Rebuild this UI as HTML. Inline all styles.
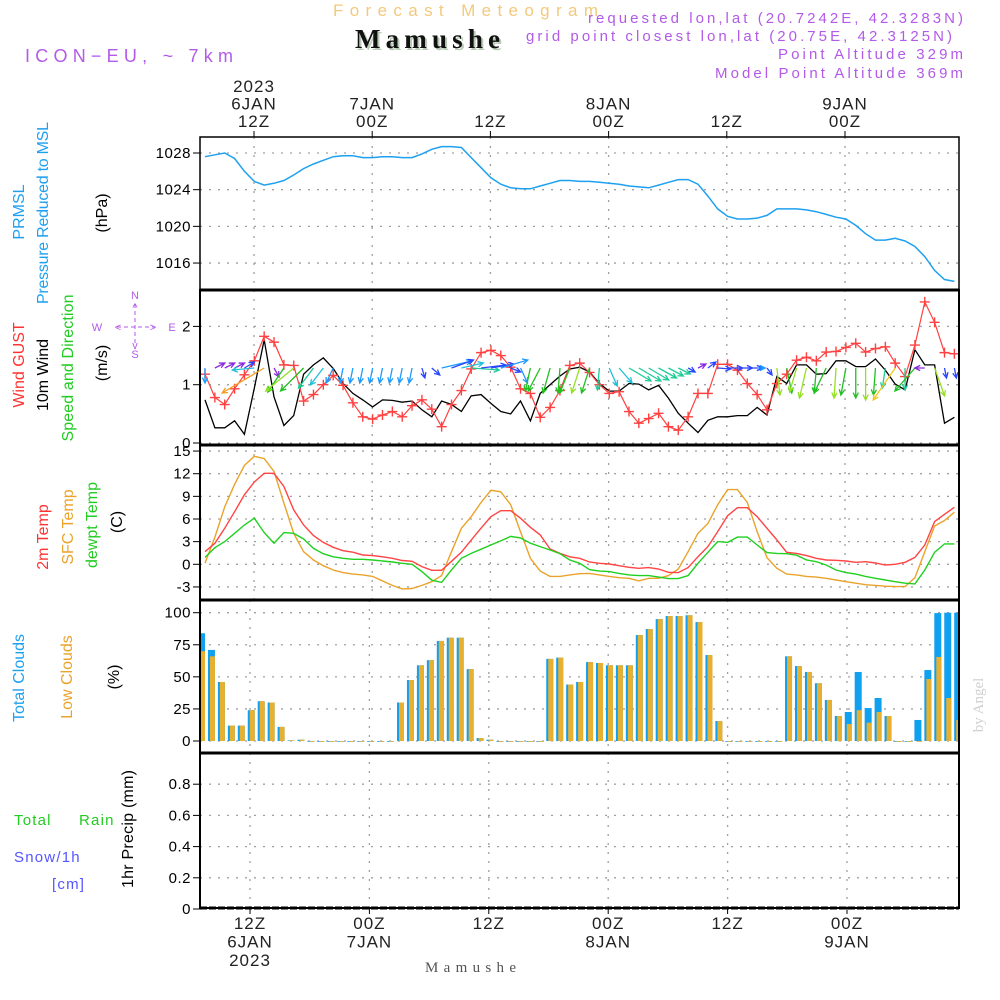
<!DOCTYPE html>
<html><head><meta charset="utf-8"><style>
html,body{margin:0;padding:0;background:#fff;}
svg{display:block;font-family:"Liberation Sans",sans-serif;}
</style></head><body>
<svg id="chart" width="1000" height="1000" viewBox="0 0 1000 1000" xmlns="http://www.w3.org/2000/svg">
<rect x="0" y="0" width="1000" height="1000" fill="#fff"/>
<!-- header -->
<text x="333" y="16" font-size="17" fill="#f3c97c" textLength="265">Forecast Meteogram</text>
<text x="357" y="50" font-family="Liberation Serif,serif" font-weight="bold" font-size="27" fill="#b9cbb6" textLength="145">Mamushe</text>
<text x="355" y="48" font-family="Liberation Serif,serif" font-weight="bold" font-size="27" fill="#111" textLength="145">Mamushe</text>
<text x="25" y="62" font-size="18" fill="#b35ae8" textLength="208">ICON−EU, ~ 7km</text>
<g fill="#b35ae8" font-size="15" text-anchor="end">
<text x="963" y="23" textLength="375">requested lon,lat (20.7242E, 42.3283N)</text>
<text x="952" y="41" textLength="426">grid point closest lon,lat (20.75E, 42.3125N)</text>
<text x="963" y="59" textLength="185">Point Altitude 329m</text>
<text x="963" y="78" textLength="248">Model Point Altitude 369m</text>
</g>
<!-- left axis titles -->
<g font-size="16" text-anchor="middle">
<text transform="translate(24,212) rotate(-90)" fill="#1ea0f0">PRMSL</text>
<text transform="translate(48,213) rotate(-90)" fill="#1ea0f0" textLength="182">Pressure Reduced to MSL</text>
<text transform="translate(107,213) rotate(-90)" fill="#000">(hPa)</text>
<text transform="translate(24,365) rotate(-90)" fill="#ff3333">Wind GUST</text>
<text transform="translate(48,375) rotate(-90)" fill="#000">10m Wind</text>
<text transform="translate(73,368) rotate(-90)" fill="#22cc22" textLength="147">Speed and Direction</text>
<text transform="translate(107,363) rotate(-90)" fill="#000">(m/s)</text>
<text transform="translate(48,537) rotate(-90)" fill="#ff3333">2m Temp</text>
<text transform="translate(73,527) rotate(-90)" fill="#eaa32a">SFC Temp</text>
<text transform="translate(97,525) rotate(-90)" fill="#22cc22">dewpt Temp</text>
<text transform="translate(122,522) rotate(-90)" fill="#000">(C)</text>
<text transform="translate(24,678) rotate(-90)" fill="#1ea0f0">Total Clouds</text>
<text transform="translate(72,677) rotate(-90)" fill="#eaa32a">Low Clouds</text>
<text transform="translate(119,677) rotate(-90)" fill="#000">(%)</text>
<text transform="translate(133,829) rotate(-90)" fill="#000" textLength="118">1hr Precip (mm)</text>
</g>
<g font-size="15" letter-spacing="1.2">
<text x="14" y="825" fill="#22cc22">Total <tspan x="79">Rain</tspan></text>
<text x="14" y="862" fill="#5555ff">Snow/1h</text>
<text x="52" y="889" fill="#5555ff">[cm]</text>
</g>
<!-- compass -->
<g fill="#b35ae8" stroke="none" font-size="11" text-anchor="middle">
<text x="97" y="331">W</text><text x="172" y="331">E</text><text x="135" y="299">N</text><text x="135" y="358">S</text>
<text x="135" y="311">^</text><text x="135" y="349">v</text>
<line x1="117" y1="327" x2="155" y2="327" stroke="#b35ae8" stroke-dasharray="4,3"/>
<line x1="135" y1="304" x2="135" y2="344" stroke="#b35ae8" stroke-dasharray="4,3"/>
<text x="118" y="331">&lt;</text><text x="153" y="331">&gt;</text>
</g>
<text transform="translate(983,705) rotate(-90)" text-anchor="middle" font-family="Liberation Serif,serif" font-size="15" fill="#d0d0d0">by Angel</text>
<text x="425" y="972" font-family="Liberation Serif,serif" font-size="15" fill="#555" textLength="91">Mamushe</text>
<g id="grid"></g>
<g id="marks"></g>
<g id="frames"></g>
<g id="labels"></g>
</svg>
<script>
// ---- data (hourly from 07Z 6 JAN) ----
const pressure = [1027.6,1027.8,1028.0,1027.4,1026.0,1024.9,1024.5,1024.7,1025.0,1025.6,1026.3,1026.8,1027.2,1027.6,1027.7,1027.7,1027.5,1027.5,1027.6,1027.6,1027.5,1027.5,1027.9,1028.4,1028.7,1028.7,1028.6,1027.5,1026.4,1025.3,1024.6,1024.2,1024.1,1024.1,1024.4,1024.7,1025.0,1025.0,1024.9,1024.9,1024.8,1024.7,1024.6,1024.4,1024.3,1024.2,1024.5,1024.8,1025.1,1025.1,1024.6,1023.3,1021.9,1021.1,1020.8,1020.8,1020.9,1021.2,1021.9,1021.9,1021.9,1021.8,1021.6,1021.3,1021.0,1020.8,1020.1,1019.2,1018.5,1018.5,1018.7,1018.4,1017.8,1016.7,1015.2,1014.2,1014.0];
const gust = [1.18,0.78,0.66,0.93,1.17,1.41,1.83,1.73,1.34,1.33,0.72,0.83,1.0,1.16,0.99,0.69,0.45,0.41,0.48,0.54,0.45,0.64,0.74,0.58,0.28,0.66,0.9,1.27,1.55,1.59,1.5,1.3,0.93,0.85,0.44,0.61,0.9,1.33,1.37,1.21,1.0,0.85,0.88,0.54,0.34,0.42,0.51,0.28,0.22,0.45,0.85,0.85,1.35,1.35,1.25,1.02,0.83,0.57,1.02,1.18,1.42,1.47,1.41,1.56,1.57,1.64,1.71,1.56,1.62,1.65,1.37,1.14,1.68,2.42,2.07,1.55,1.53];
const wind10m = [0.74,0.26,0.26,0.38,0.15,0.94,1.77,0.79,0.3,0.47,1.18,1.34,1.46,1.28,1.02,0.85,0.74,0.62,0.74,0.73,0.7,0.72,0.57,0.45,0.72,0.66,0.54,0.81,0.83,0.68,0.54,0.5,0.72,0.38,0.85,1.0,1.15,1.27,1.3,1.22,1.02,0.89,0.89,1.02,1.01,0.91,0.99,0.77,0.51,0.34,0.18,0.39,0.45,0.45,0.47,0.47,0.61,0.48,1.14,1.02,1.34,1.34,1.18,1.19,1.41,1.41,1.31,1.31,1.44,1.25,1.01,0.91,1.6,1.34,1.34,0.34,0.44];
const windU = [0,10,10,10,10,-22,-42,5,-16,-28,-23,-15,-13,-7,-3,-3,-3,-3,-3,-3,-3,-3,3,8,30,22,22,28,25,23,27,10,7,-5,-12,-7,-2,-10,-8,-8,-2,8,13,22,22,20,18,15,12,7,8,8,13,15,15,15,8,5,3,5,-7,-7,-2,-12,-2,-5,0,0,-2,-3,-22,0,-20,-10,10,2,2];
const windV = [15,-5,-5,-5,-6,2,25,9,24,23,23,20,17,15,15,15,15,15,15,15,15,15,10,7,-7,-8,-5,2,-3,-4,-8,4,15,23,23,25,25,25,25,25,22,18,15,13,13,12,10,8,6,4,-4,-6,1,0,0,0,0,7,27,25,24,30,25,25,30,27,30,32,27,20,32,22,23,0,28,10,10];
const windColor = ["lb","p","p","p","b","c","o","p","g","lg","g","t","c","lb","lb","lb","lb","lb","lb","lb","lb","lb","b","b","lb","b","c","t","b","b","lb","b","lb","g","g","g","g","g","lg","g","t","c","c","t","t","t","t","t","t","b","p","b","b","b","b","b","lb","b","lg","g","lg","lg","g","g","lg","g","g","lg","g","t","y","t","g","p","lg","b","b"];
const temp2m = [1.67,2.78,4.77,6.97,9.2,10.9,12.05,12.05,10.3,7.2,5.2,3.8,2.9,2.25,1.8,1.6,1.23,1.15,1.0,0.8,0.5,0.4,-0.3,-0.8,-0.8,0.4,1.6,3.2,4.8,6.3,7.1,7.1,6.1,4.9,3.9,2.03,1.45,1.0,0.8,0.3,0.13,0.04,-0.18,-0.4,-0.53,-0.44,-0.62,-1.06,-1.1,-0.44,1.01,2.34,4.33,6.44,7.5,7.5,6.31,4.77,3.22,1.59,1.45,1.15,0.79,0.57,0.53,0.44,0.26,0.35,0.17,-0.09,0,0.26,0.92,2.56,5.65,6.62,7.55];
const tempSfc = [0.13,3.6,7.6,10.6,13.1,14.3,14.0,12.3,8.1,4.1,1.67,0.57,-0.18,-0.75,-1.1,-1.3,-1.4,-1.6,-2.2,-2.8,-3.26,-3.2,-2.8,-2.3,-1.5,1.67,4.77,6.3,8.2,9.8,9.6,7.9,4.3,0.8,-0.9,-1.6,-1.6,-1.4,-1.24,-1.2,-1.4,-1.6,-1.77,-1.86,-2.2,-1.86,-1.86,-1.5,-0.62,1.67,4.1,5.4,7.9,9.9,9.9,8.2,4.3,0.88,-0.53,-1.3,-1.4,-1.6,-1.7,-1.86,-2.08,-2.3,-2.5,-2.7,-2.8,-2.9,-2.96,-2.96,-1.77,1.67,5.07,5.8,6.9];
const dewpt = [0.92,2.2,3.0,4.1,5.2,6.1,4.2,2.8,4.2,4.1,3.35,2.1,1.4,1.0,0.8,0.66,0.66,0.57,0.44,0.3,0.13,0.0,-0.97,-2.1,-2.4,-0.75,0.8,1.45,2.0,2.56,3.1,3.7,3.5,2.8,2.34,1.9,1.4,0.57,0.13,-0.7,-0.9,-0.97,-1.2,-1.4,-1.5,-1.5,-1.7,-1.9,-1.9,-1.5,0.13,1.59,3.0,2.9,3.6,3.6,2.56,1.55,1.45,1.4,1.2,0.57,0.35,-0.09,-0.75,-1.1,-1.3,-1.6,-1.86,-2.08,-2.3,-2.5,-2.6,-0.75,1.59,2.7,2.7];
const totalClouds = [84,71,46,12,12,24,31,30,11,0.5,1,0,0,0,0,0,0,0,0,0,30,47.5,59,63,78,80.5,80.5,56,2.3,1,0,0,0,0,0,64,65,44,46,61.5,60.8,59,59,59,82.6,87.3,95,97.4,97.4,98,92.7,67,15.6,0,0,0,0,0,0,66,58.4,53.8,45,32,19.5,22.6,53.8,25.7,33.5,19.5,0,0,16.4,55.3,99.7,100,100];
const lowClouds = [70,66,46,12,12,24,31,30,11,0.5,1,0,0,0,0,0,0,0,0,0,30,47.5,59,63,78,80.5,80.5,56,2.3,1,0,0,0,0,0,64,65,44,46,61.5,60.8,59,59,59,82.6,87.3,95,97.4,97.4,98,92.7,67,15.6,0,0,0,0,0,0,66,58.4,53.8,45,32,19.5,13.2,24,14.3,22.6,19.5,0,0,0,48.3,65.5,33.5,16.4];
const precip = [];
const pressureTicks = [1028,1024,1020,1016];
const windTicks = [2,1,0];
const tempTicks = [15,12,9,6,3,0,-3];
const cloudTicks = [100,75,50,25,0];
const precipTicks = [0.8,0.6,0.4,0.2,0];
const topTimeLabels = [["2023","6JAN","12Z"],["","7JAN","00Z"],["","","12Z"],["","8JAN","00Z"],["","","12Z"],["","9JAN","00Z"]];
const bottomTimeLabels = [["12Z","6JAN","2023"],["00Z","7JAN",""],["12Z","",""],["00Z","8JAN",""],["12Z","",""],["00Z","9JAN",""]];

// ---- scales ----
const X0=200, X1=959;
const xT = i => 205 + i*9.86;
const xB = j => 201 + j*9.95;
const gridTop = k => 254 + k*118.2;
const gridBot = k => 250 + k*119.4;
const yP = v => 153 + (1028 - v)*9.17;
const yW = v => 443 - v*58.3;
const yT = v => 564.3 - v*7.55;
const yC = v => 741 - v*1.283;
const yR = v => 909 - v*156;
const panels = [[137,290],[290,445],[445,600],[600,753],[753,908]];
const colors = {p:"#8a2be2",b:"#2a45ff",lb:"#1e9bff",c:"#22c0d8",t:"#1ecc96",g:"#20c020",lg:"#96e024",y:"#f0c820",o:"#f0a020"};
const NS="http://www.w3.org/2000/svg";
function mk(tag, parent, attrs){const e=document.createElementNS(NS,tag);for(const k in attrs)e.setAttribute(k,attrs[k]);parent.appendChild(e);return e;}
const G=document.getElementById('grid'), M=document.getElementById('marks'), F=document.getElementById('frames'), L=document.getElementById('labels');
const dash={stroke:"#a0a0a0","stroke-width":1.3,"stroke-dasharray":"2,7"};

function hgrid(ticks, yf, name){
  ticks.forEach(t=>{
    const y=yf(t);
    const gl=mk('line',G,Object.assign({x1:X0,x2:X1,y1:y,y2:y},dash));
    
    
    mk('line',G,{x1:193,x2:X0,y1:y,y2:y,stroke:"#000","stroke-width":1});
    const tx=mk('text',L,{x:191,y:y+5,"text-anchor":"end","font-size":15,fill:"#000","letter-spacing":"0.5"});
    tx.textContent=String(t);
    
    
  });
}
hgrid(pressureTicks,yP,'pressure');
hgrid(windTicks,yW,'wind');
hgrid(tempTicks,yT,'temp');
hgrid(cloudTicks,yC,'cloud');
hgrid(precipTicks,yR,'precip');
for(let k=0;k<6;k++){
  for(let p=0;p<3;p++){
    const vl=mk('line',G,Object.assign({x1:gridTop(k),x2:gridTop(k),y1:panels[p][0],y2:panels[p][1]},dash));
    
    
  }
  for(let p=3;p<5;p++){
    const vl=mk('line',G,Object.assign({x1:gridBot(k),x2:gridBot(k),y1:panels[p][0],y2:panels[p][1]},dash));
    
    
  }
  mk('line',G,{x1:gridTop(k),x2:gridTop(k),y1:131,y2:137,stroke:"#000"});
  mk('line',G,{x1:gridBot(k),x2:gridBot(k),y1:908,y2:914,stroke:"#000"});
  topTimeLabels[k].forEach((s,r)=>{ if(!s)return;
    const t=mk('text',L,{x:gridTop(k),y:92+r*17.5,"text-anchor":"middle","font-size":17,fill:"#222","letter-spacing":"1"});
    t.textContent=s;
    
    
  });
  bottomTimeLabels[k].forEach((s,r)=>{ if(!s)return;
    const t=mk('text',L,{x:gridBot(k),y:929+r*18.5,"text-anchor":"middle","font-size":17,fill:"#222","letter-spacing":"1"});
    t.textContent=s;
    
    
  });
}

function linePath(arr, yf){return arr.map((v,i)=>(i?'L':'M')+xT(i).toFixed(1)+','+yf(v).toFixed(1)).join(' ');}
const pl=mk('path',M,{d:linePath(pressure,yP),fill:"none",stroke:"#1ea0f0","stroke-width":1.5});



const wl=mk('path',M,{d:linePath(wind10m,yW),fill:"none",stroke:"#000","stroke-width":1.3});


const gl=mk('path',M,{d:linePath(gust,yW),fill:"none",stroke:"#ff4040","stroke-width":1.2});


gust.forEach((v,i)=>{
  const x=xT(i), y=yW(v);
  const m=mk('path',M,{d:`M${x-5},${y}H${x+5}M${x},${y-5}V${y+5}`,stroke:"#ff4040","stroke-width":1.4});
  
  
});
windU.forEach((u,i)=>{
  const v=windV[i]; const L0=Math.hypot(u,v); if(L0<1)return;
  const x=xT(i), y=368, ex=x+u, ey=y+v;
  const a=Math.atan2(v,u), h=6;
  const p1x=ex-h*Math.cos(a-0.45), p1y=ey-h*Math.sin(a-0.45);
  const p2x=ex-h*Math.cos(a+0.45), p2y=ey-h*Math.sin(a+0.45);
  const ar=mk('path',M,{d:`M${x},${y}L${ex},${ey}M${p1x},${p1y}L${ex},${ey}L${p2x},${p2y}`,fill:"none",stroke:colors[windColor[i]],"stroke-width":1.3});
  
  
});

[[tempSfc,"#eaa32a",'sfc-temp-line'],[temp2m,"#ff4444",'temp-2m-line'],[dewpt,"#20d020",'dewpt-line']].forEach(([arr,c,n])=>{
  const p=mk('path',M,{d:linePath(arr,yT),fill:"none",stroke:c,"stroke-width":1.4});
  
  
});

const clip=mk('clipPath',M,{id:"cloudclip"});
mk('rect',clip,{x:X0,y:600,width:X1-X0,height:153});
const CG=mk('g',M,{"clip-path":"url(#cloudclip)"});
totalClouds.forEach((v,j)=>{
  const x=xB(j);
  const b=mk('rect',CG,{x:x-3,y:yC(v),width:7,height:v>0?v*1.283:0.8,fill:"#10a0f0"});
  
  
  const lv=lowClouds[j];
  const o=mk('rect',CG,{x:x-1,y:yC(lv),width:5,height:lv>0?lv*1.283:0.8,fill:"#e8b030"});
  
  
});

panels.forEach((p,k)=>{
  const r=mk('rect',F,{x:X0,y:p[0],width:X1-X0,height:p[1]-p[0],fill:"none",stroke:"#000","stroke-width":k==0?1.5:2});
  
  
});
[290,445,600,753].forEach(y=>mk('line',F,{x1:X0,x2:X1,y1:y,y2:y,stroke:"#000","stroke-width":3}));
mk('line',F,{x1:X0,x2:X1,y1:908,y2:908,stroke:"#000","stroke-width":3,"stroke-dasharray":"7,2"});
</script>
</body></html>
